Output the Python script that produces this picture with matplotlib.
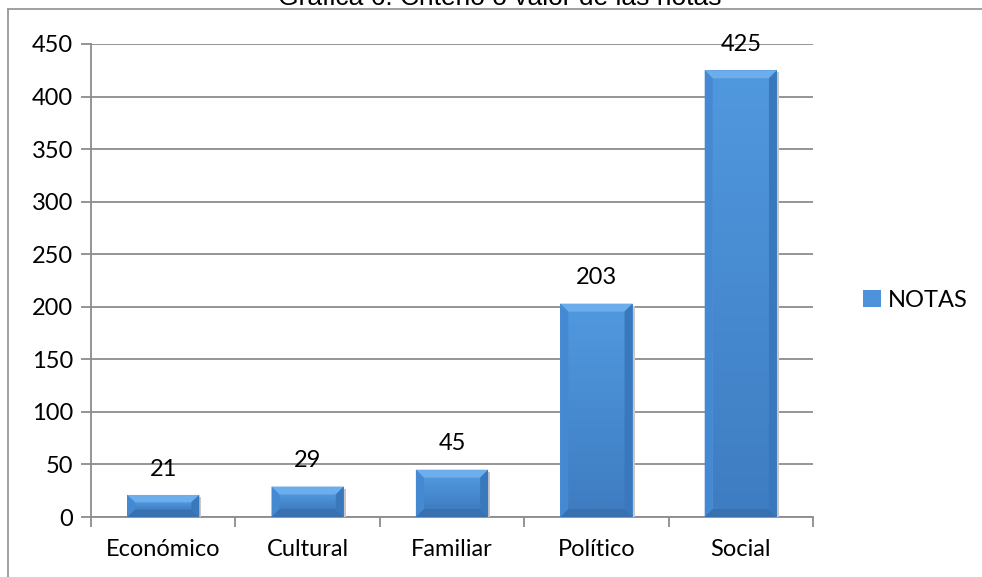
import matplotlib
matplotlib.use("Agg")
import matplotlib.pyplot as plt
from matplotlib.patches import Polygon
from matplotlib.lines import Line2D
from matplotlib.colors import LinearSegmentedColormap
import numpy as np

categories = ["Económico", "Cultural", "Familiar", "Político", "Social"]
values = [21, 29, 45, 203, 425]
series_name = "NOTAS"
title = "Gráfica 6. Criterio o valor de las notas"
yticks = [0, 50, 100, 150, 200, 250, 300, 350, 400, 450]

plt.rcParams['font.family'] = ['Lato', 'DejaVu Sans']
FS = 17

fig = plt.figure(figsize=(9.82, 5.77), dpi=100)
ax = fig.add_axes([91/982, 1-517/577, (813-91)/982, (517-44)/577])

x = np.arange(len(categories))
width = 0.5
main = "#4d92da"
bars = ax.bar(x, values, width=width, color=main, edgecolor="none", zorder=3)

# bevel decoration derived from each bar's geometry
px_per_unit = (517-44)/450.0
cmap = LinearSegmentedColormap.from_list("g", ["#3f7dc2", "#5098de"])
for b in bars:
    x0 = b.get_x(); x1 = x0 + b.get_width(); h = b.get_height()
    bx = 0.055
    by = min(8/px_per_unit, h/3)
    # soft shadow
    ax.add_patch(Polygon([(x1, -1), (x1+0.015, -1), (x1+0.015, h-2), (x1, h-2)],
                         closed=True, fc="#c8c8c8", ec="none", zorder=2.9))
    top = Polygon([(x0, h), (x1, h), (x1-bx, h-by), (x0+bx, h-by)], closed=True,
                  fc="#6cadec", ec="none", zorder=4)
    left = Polygon([(x0, 0), (x0, h), (x0+bx, h-by), (x0+bx, by)], closed=True,
                   fc="#4489d2", ec="none", zorder=4)
    right = Polygon([(x1, 0), (x1, h), (x1-bx, h-by), (x1-bx, by)], closed=True,
                    fc="#3a78bd", ec="none", zorder=4)
    bottom = Polygon([(x0, 0), (x1, 0), (x1-bx, by), (x0+bx, by)], closed=True,
                     fc="#3870b0", ec="none", zorder=4)
    for p in (top, left, right, bottom):
        ax.add_patch(p)
    grad = np.linspace(0, 1, 100).reshape(-1, 1)
    ax.imshow(grad, extent=(x0+bx, x1-bx, by, h-by), origin="lower", cmap=cmap,
              aspect="auto", zorder=3.5)
    ax.annotate(f"{int(h)}", xy=(b.get_x()+b.get_width()/2, h), xytext=(0, 11),
                textcoords="offset points", ha="center", va="bottom",
                fontsize=FS, color="black", zorder=5)

ax.set_xlim(-0.5, len(categories)-0.5)
ax.set_ylim(0, 450)
ax.set_yticks(yticks)
ax.set_yticklabels([str(v) for v in yticks], fontsize=FS)
ax.yaxis.grid(True, color="#8c8c8c", linewidth=1.3, zorder=1)
ax.set_axisbelow(True)
ax.set_xticks(x)
ax.set_xticklabels(categories, fontsize=FS)
ax.tick_params(axis="x", length=0, pad=16)
ax.set_xticks(np.arange(len(categories)+1)-0.5, minor=True)
ax.tick_params(axis="x", which="minor", length=7, color="#8c8c8c", width=1.3)
ax.tick_params(axis="y", length=7, color="#8c8c8c", width=1.3, pad=6)
for s in ("top", "right"):
    ax.spines[s].set_visible(False)
for s in ("left", "bottom"):
    ax.spines[s].set_color("#8c8c8c")
    ax.spines[s].set_linewidth(1.3)

# legend
fig.legend([bars], [series_name], loc="center left",
           bbox_to_anchor=(842/982, 1-300/577), frameon=False, fontsize=FS,
           handlelength=0.75, handleheight=0.75, handletextpad=0.3)

# outer frame (top and left edges visible)
fig.add_artist(Line2D([8/982, 1], [1-9/577, 1-9/577], transform=fig.transFigure,
                      color="#999999", lw=1.3))
fig.add_artist(Line2D([8/982, 8/982], [0, 1-9/577], transform=fig.transFigure,
                      color="#999999", lw=1.3))
fig.text(500/982, 1-5/577, title, ha="center", va="baseline", fontsize=19,
         family=["Liberation Sans", "DejaVu Sans"])

fig.savefig("out.png", dpi=100)
